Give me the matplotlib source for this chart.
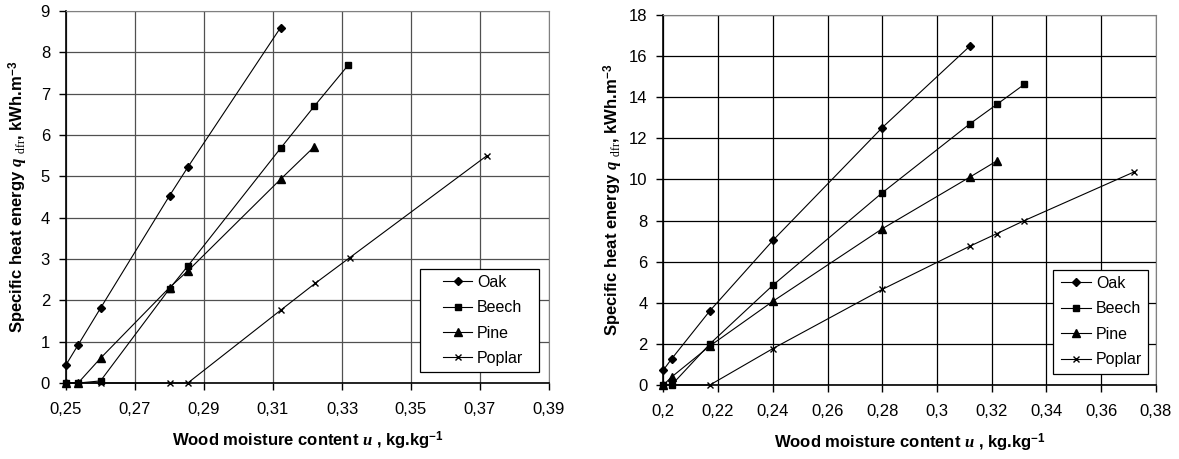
import matplotlib
matplotlib.use("Agg")
import matplotlib.pyplot as plt
from matplotlib.patches import Rectangle

plt.rcParams["font.family"] = ["Liberation Sans", "DejaVu Sans"]
plt.rcParams["mathtext.fontset"] = "custom"
plt.rcParams["mathtext.it"] = "Liberation Serif:italic:bold"
plt.rcParams["mathtext.rm"] = "Liberation Serif"
plt.rcParams["mathtext.bf"] = "Liberation Sans:bold"

# ── left panel data (u, q) ─────────────────────
L_oak_u    = [0.25, 0.2535, 0.26, 0.28, 0.2853, 0.3122]
L_oak_q    = [0.44, 0.92, 1.81, 4.53, 5.22, 8.60]
L_beech_u  = [0.25, 0.2535, 0.26, 0.28, 0.2853, 0.3122, 0.3220, 0.3318]
L_beech_q  = [0.0, 0.0, 0.05, 2.28, 2.83, 5.68, 6.70, 7.69]
L_pine_u   = [0.25, 0.2535, 0.26, 0.28, 0.2853, 0.3122, 0.3220]
L_pine_q   = [0.0, 0.0, 0.60, 2.31, 2.71, 4.93, 5.72]
L_poplar_u = [0.25, 0.2535, 0.26, 0.28, 0.2853, 0.3122, 0.3222, 0.3322, 0.3720]
L_poplar_q = [0.0, 0.0, 0.0, 0.0, 0.0, 1.76, 2.41, 3.03, 5.50]

L_xticks  = [0.25, 0.27, 0.29, 0.31, 0.33, 0.35, 0.37, 0.39]
L_xlabels = ["0,25", "0,27", "0,29", "0,31", "0,33", "0,35", "0,37", "0,39"]
L_yticks  = [0, 1, 2, 3, 4, 5, 6, 7, 8, 9]

# ── right panel data (u, q) ────────────────────
R_oak_u    = [0.20, 0.203, 0.217, 0.240, 0.280, 0.312]
R_oak_q    = [0.73, 1.27, 3.61, 7.03, 12.52, 16.48]
R_beech_u  = [0.20, 0.203, 0.217, 0.240, 0.280, 0.312, 0.322, 0.332]
R_beech_q  = [0.0, 0.0, 2.0, 4.85, 9.35, 12.70, 13.66, 14.63]
R_pine_u   = [0.20, 0.203, 0.217, 0.240, 0.280, 0.312, 0.322]
R_pine_q   = [0.0, 0.39, 1.90, 4.07, 7.60, 10.11, 10.91]
R_poplar_u = [0.20, 0.203, 0.217, 0.240, 0.280, 0.312, 0.322, 0.332, 0.372]
R_poplar_q = [0.0, 0.0, 0.0, 1.77, 4.65, 6.75, 7.37, 8.0, 10.36]

R_xticks  = [0.20, 0.22, 0.24, 0.26, 0.28, 0.30, 0.32, 0.34, 0.36, 0.38]
R_xlabels = ["0,2", "0,22", "0,24", "0,26", "0,28", "0,3", "0,32", "0,34", "0,36", "0,38"]
R_yticks  = [0, 2, 4, 6, 8, 10, 12, 14, 16, 18]

names = ["Oak", "Beech", "Pine", "Poplar"]
markers = [("D", 3.6), ("s", 4.6), ("^", 5.4), ("x", 4.8)]

ylab = r"Specific heat energy $q$ $_{\mathrm{dfr}}$, kWh.m$^{\mathbf{-3}}$"
xlab = r"Wood moisture content $u$ , kg.kg$^{\mathbf{-1}}$"

fig = plt.figure(figsize=(11.79, 4.59), dpi=100)
ax1 = fig.add_axes([66 / 1179, 1 - 383 / 459, 483 / 1179, 372 / 459])
ax2 = fig.add_axes([663.4 / 1179, 1 - 385 / 459, 492.3 / 1179, 370 / 459])


def draw(ax, series, xticks, xlabels, yticks, gridcol, ylpad, leg_anchor, box):
    for (u, q), name, (m, ms) in zip(series, names, markers):
        ax.plot(u, q, color="black", lw=0.8, marker=m, ms=ms, mew=1.0,
                mfc="black", mec="black", label=name, clip_on=False)
    ax.set_xlim(xticks[0], xticks[-1])
    ax.set_ylim(yticks[0], yticks[-1])
    ax.set_xticks(xticks)
    ax.set_xticklabels(xlabels)
    ax.set_yticks(yticks)
    ax.grid(True, color=gridcol, lw=0.9)
    ax.set_axisbelow(True)
    ax.tick_params(labelsize=12, length=5, width=1, direction="out")
    ax.tick_params(axis="x", pad=9)
    ax.tick_params(axis="y", pad=6.5)
    for s in ("top", "right"):
        ax.spines[s].set_color("#808080")
    for s in ("left", "bottom"):
        ax.spines[s].set_color("black")
        ax.spines[s].set_linewidth(1.2)
    ax.set_xlabel(xlab, fontsize=12, fontweight="bold", labelpad=9)
    ax.set_ylabel(ylab, fontsize=12, fontweight="bold", labelpad=ylpad)
    # legend frame drawn as its own box
    x0, y0, x1, y1 = box
    ax.add_patch(Rectangle((x0, y0), x1 - x0, y1 - y0, transform=ax.transAxes,
                           facecolor="white", edgecolor="black", lw=0.9,
                           zorder=4, clip_on=False))
    leg = ax.legend(loc="upper left", bbox_to_anchor=leg_anchor,
                    borderaxespad=0, borderpad=0, fontsize=11.5, frameon=False,
                    handlelength=1.85, handletextpad=0.3, labelspacing=0.65)
    leg.set_zorder(5)


draw(ax1, [(L_oak_u, L_oak_q), (L_beech_u, L_beech_q), (L_pine_u, L_pine_q),
           (L_poplar_u, L_poplar_q)],
     L_xticks, L_xlabels, L_yticks, "#505050", 8,
     (0.780, 0.291), (0.733, 0.0296, 0.979, 0.306))
draw(ax2, [(R_oak_u, R_oak_q), (R_beech_u, R_beech_q), (R_pine_u, R_pine_q),
           (R_poplar_u, R_poplar_q)],
     R_xticks, R_xlabels, R_yticks, "black", 2.5,
     (0.8085, 0.2946), (0.792, 0.0297, 0.985, 0.311))

fig.savefig("out.png", dpi=100)
